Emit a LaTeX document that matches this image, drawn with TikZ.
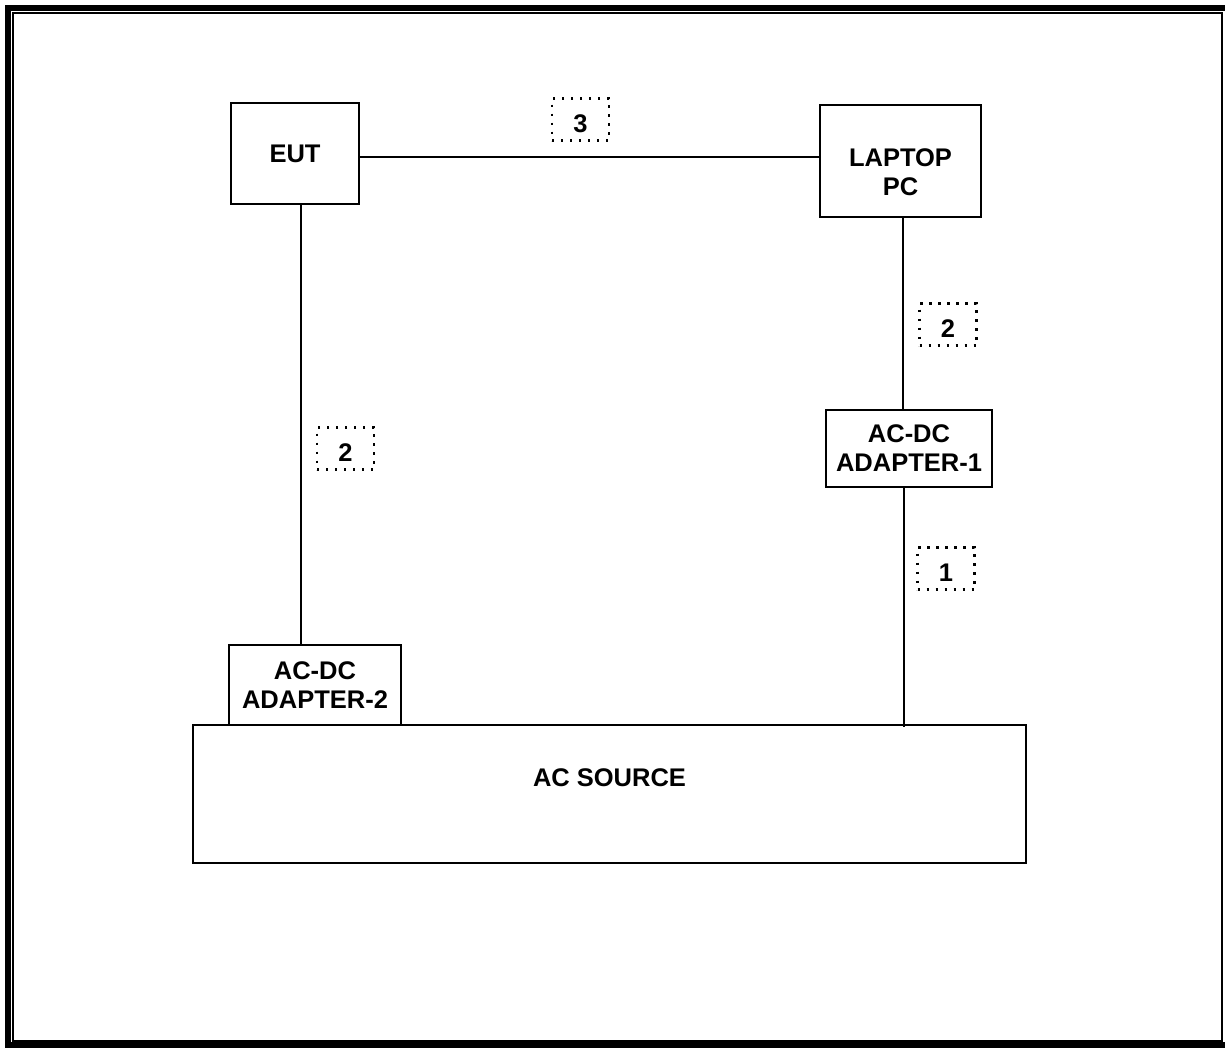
\documentclass[tikz,border=0pt]{standalone}
\usepackage{fontspec}
\setmainfont{Liberation Sans}
\usepackage{tikz}
\usetikzlibrary{positioning,calc}
\tikzset{
  blk/.style={
    rectangle, draw=black, fill=white, line width=2pt,
    align=center, inner sep=0pt,
    font=\fontsize{25.5}{29}\selectfont\bfseries
  },
  lbl/.style={
    align=center, inner sep=0pt,
    font=\fontsize{25.5}{29}\selectfont\bfseries
  },
  tagbox/.style={
    rectangle, draw=black, line width=2.2pt,
    dash pattern={on 2.2pt off 6.8pt},
    minimum width=57pt, minimum height=42pt, inner sep=0pt,
    text height=26pt, text depth=0pt,
    font=\fontsize{25.5}{29}\selectfont\bfseries
  },
  wire/.style={
    line width=2pt, black
  }
}

\begin{document}
\begin{tikzpicture}[x=1pt,y=-1pt]
\useasboundingbox (0,0) rectangle (1225,1047);
% marco
\draw[line width=6pt] (8,8) rectangle (1233,1045);
\draw[line width=2pt] (12.7,12.7) rectangle (1222,1041);

% cajas
\node[blk, minimum width=128pt, minimum height=101pt] (eut) at (295,153.5) {EUT};
\node[blk, minimum width=161pt, minimum height=112pt] (laptop) at (900.5,161) {};
\node[lbl, below=11pt of laptop.center, anchor=center] (laptoptxt) {LAPTOP\\PC};
\node[blk, minimum width=166pt, minimum height=77pt] (adapt1) at (909,448.5) {AC-DC\\ADAPTER-1};
\node[blk, minimum width=833pt, minimum height=138pt] (acsrc) at (609.5,794) {};
\node[lbl, above=16pt of acsrc.center, anchor=center] (acsrctxt) {AC SOURCE};
\node[blk, minimum width=172pt, minimum height=80pt] (adapt2) at (315,685) {AC-DC\\ADAPTER-2};

% cables
\draw[wire] ([yshift=-3.5pt]eut.east) -- ([yshift=-3.5pt]eut.east -| laptop.west);
\draw[wire] ([xshift=6pt]eut.south) -- ([xshift=6pt]eut.south |- adapt2.north);
\draw[wire] ([xshift=2pt]laptop.south) -- ([xshift=2pt]laptop.south |- adapt1.north);
\draw[wire] ([xshift=-5pt]adapt1.south) -- ([xshift=-5pt,yshift=-3pt]adapt1.south |- acsrc.north);

% marcas
\node[tagbox] (tag3) at (580.5,119.5) {3};
\node[tagbox] (tag2r) at (948,324.5) {2};
\node[tagbox] (tag2l) at (345.5,448.5) {2};
\node[tagbox] (tag1) at (946,568.5) {1};
\end{tikzpicture}
\end{document}
